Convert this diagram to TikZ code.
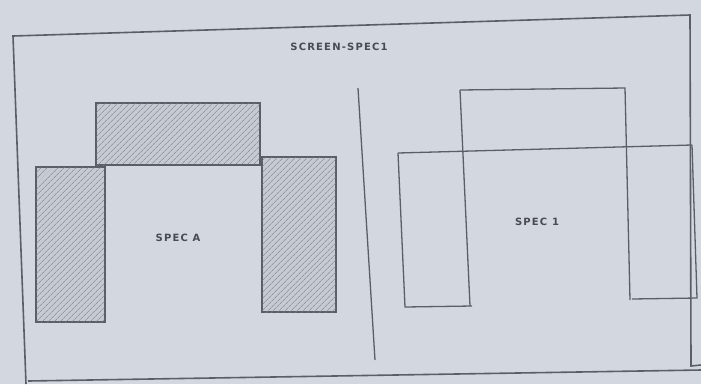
\documentclass[tikz,border=0pt]{standalone}
\usepackage{fontspec}
\newfontfamily\lblfont[LetterSpace=12]{DejaVu Sans}
\usetikzlibrary{patterns.meta}
\definecolor{paper}{HTML}{D3D7DF}
\definecolor{ink}{HTML}{5A5E68}
\definecolor{hatchbg}{HTML}{C6CAD2}
\tikzset{
  frameline/.style={draw=ink, line width=1.6pt},
  thinline/.style={draw=ink, line width=1.3pt},
  hatched/.style={draw=ink, line width=1.4pt, fill=hatchbg,
    postaction={pattern={Lines[angle=45,distance=4pt,line width=0.6pt]}, pattern color=ink!80}},
  lbl/.style={font=\lblfont\bfseries\fontsize{10}{11}\selectfont, text=ink!80!black, inner sep=1pt}
}
\begin{document}
\begin{tikzpicture}[x=1pt,y=-1pt]
\fill[paper] (0,0) rectangle (701,384);
\useasboundingbox (0,0) rectangle (701,384);
% outer frame
\draw[frameline] (26,384) -- (13,36) -- (690,15) -- (691,366) -- (701,365);
\draw[frameline] (28,381) -- (701,370);
% divider
\draw[thinline] (358,88) -- (375,360);
\node[lbl] (title) at (339,47) {SCREEN-SPEC1};
% left: hatched parts
\draw[hatched] (96,103) rectangle (260,165);
\draw[hatched] (36,167) rectangle (105,322);
\draw[hatched] (262,157) rectangle (336,312);
\draw[thinline] (105,165) -- (262,165);
\node[lbl] (specA) at (178,238) {SPEC A};
% right: outlines
\draw[thinline] (460,90) -- (625,88) -- (630,300);
\draw[thinline] (460,90) -- (470,306);
\draw[thinline] (398,153) -- (692,145);
\draw[thinline] (398,153) -- (405,307) -- (472,306);
\draw[thinline] (692,145) -- (697,298) -- (632,299);
\node[lbl] (spec1) at (537,222) {SPEC 1};
\end{tikzpicture}
\end{document}
